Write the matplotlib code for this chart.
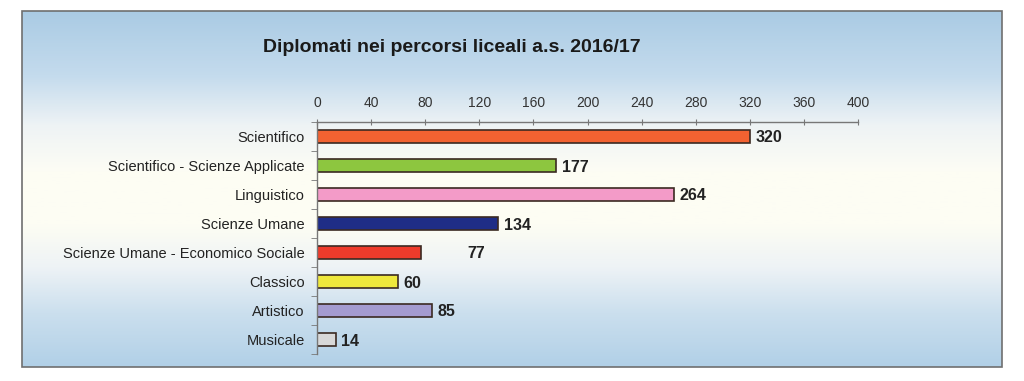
import numpy as np
import matplotlib.pyplot as plt
from matplotlib.colors import LinearSegmentedColormap
from matplotlib.patches import Rectangle

plt.rcParams["font.family"] = ["Liberation Sans", "DejaVu Sans"]

categories = ["Scientifico", "Scientifico - Scienze Applicate", "Linguistico",
              "Scienze Umane", "Scienze Umane - Economico Sociale", "Classico",
              "Artistico", "Musicale"]
values = [320, 177, 264, 134, 77, 60, 85, 14]
bar_colors = ["#f26231", "#8dc63f", "#f39bc8", "#1f2d86", "#ee3b2b",
              "#efe83c", "#a49bd0", "#d8d8d8"]
# extra horizontal shift of the value labels (the "77" sits further right)
label_shift = [0, 0, 0, 0, 30, 0, 0, 0]
x_ticks = [0, 40, 80, 120, 160, 200, 240, 280, 320, 360, 400]
title = "Diplomati nei percorsi liceali a.s. 2016/17"

fig = plt.figure(figsize=(10.24, 3.81), dpi=100)
W, H = 1024, 381

# gradient background inside the frame
x0, y0, x1, y1 = 22, 11, 1002, 367
bg = fig.add_axes([x0 / W, 1 - y1 / H, (x1 - x0) / W, (y1 - y0) / H])
grad = LinearSegmentedColormap.from_list("bg", [
    (0.00, "#aacbe4"), (0.18, "#c4dbed"), (0.32, "#eef3f5"), (0.45, "#fdfdf4"),
    (0.60, "#fdfdf3"), (0.72, "#eef3f6"), (0.85, "#cbdfee"), (1.00, "#b1d0e7")])
bg.imshow(np.linspace(0, 1, 256).reshape(-1, 1), aspect="auto", cmap=grad,
          extent=[0, 1, 1, 0])
bg.set_xlim(0, 1)
bg.set_ylim(1, 0)
bg.axis("off")
fig.patches.append(Rectangle((x0 / W, 1 - y1 / H), (x1 - x0) / W, (y1 - y0) / H,
                             transform=fig.transFigure, fill=False,
                             edgecolor="#6f6f6f", linewidth=1.2))

ax = fig.add_axes([317 / W, 1 - 354 / H, 541 / W, 232 / H])
ax.patch.set_alpha(0)
pos = np.arange(len(categories))
ax.barh(pos, values, height=0.42, color=bar_colors, edgecolor="#3b2a22",
        linewidth=1.2)
for p, v, s in zip(pos, values, label_shift):
    ax.text(v + 4 + s, p, str(v), va="center_baseline", ha="left",
            fontsize=11.5, fontweight="bold", color="#222222")

ax.set_xlim(0, 400)
ax.set_ylim(len(categories) - 0.5, -0.5)
ax.xaxis.tick_top()
ax.set_xticks(x_ticks)
ax.tick_params(axis="x", direction="inout", length=5, color="#777777",
               labelsize=10, labelcolor="#333333", pad=6)
ax.set_yticks(pos)
ax.set_yticklabels(categories)
ax.set_yticks(np.arange(len(categories) + 1) - 0.5, minor=True)
ax.tick_params(axis="y", which="major", length=0, labelsize=10.5,
               labelcolor="#222222", pad=9)
ax.tick_params(axis="y", which="minor", length=4, color="#777777")
for side in ["right", "bottom"]:
    ax.spines[side].set_visible(False)
for side in ["top", "left"]:
    ax.spines[side].set_color("#777777")
    ax.spines[side].set_linewidth(1.0)

fig.text(263 / W, 1 - 47 / H, title, fontsize=14, fontweight="bold",
         color="#1a1a1a", va="center", ha="left")

fig.savefig("out.png", dpi=100)
